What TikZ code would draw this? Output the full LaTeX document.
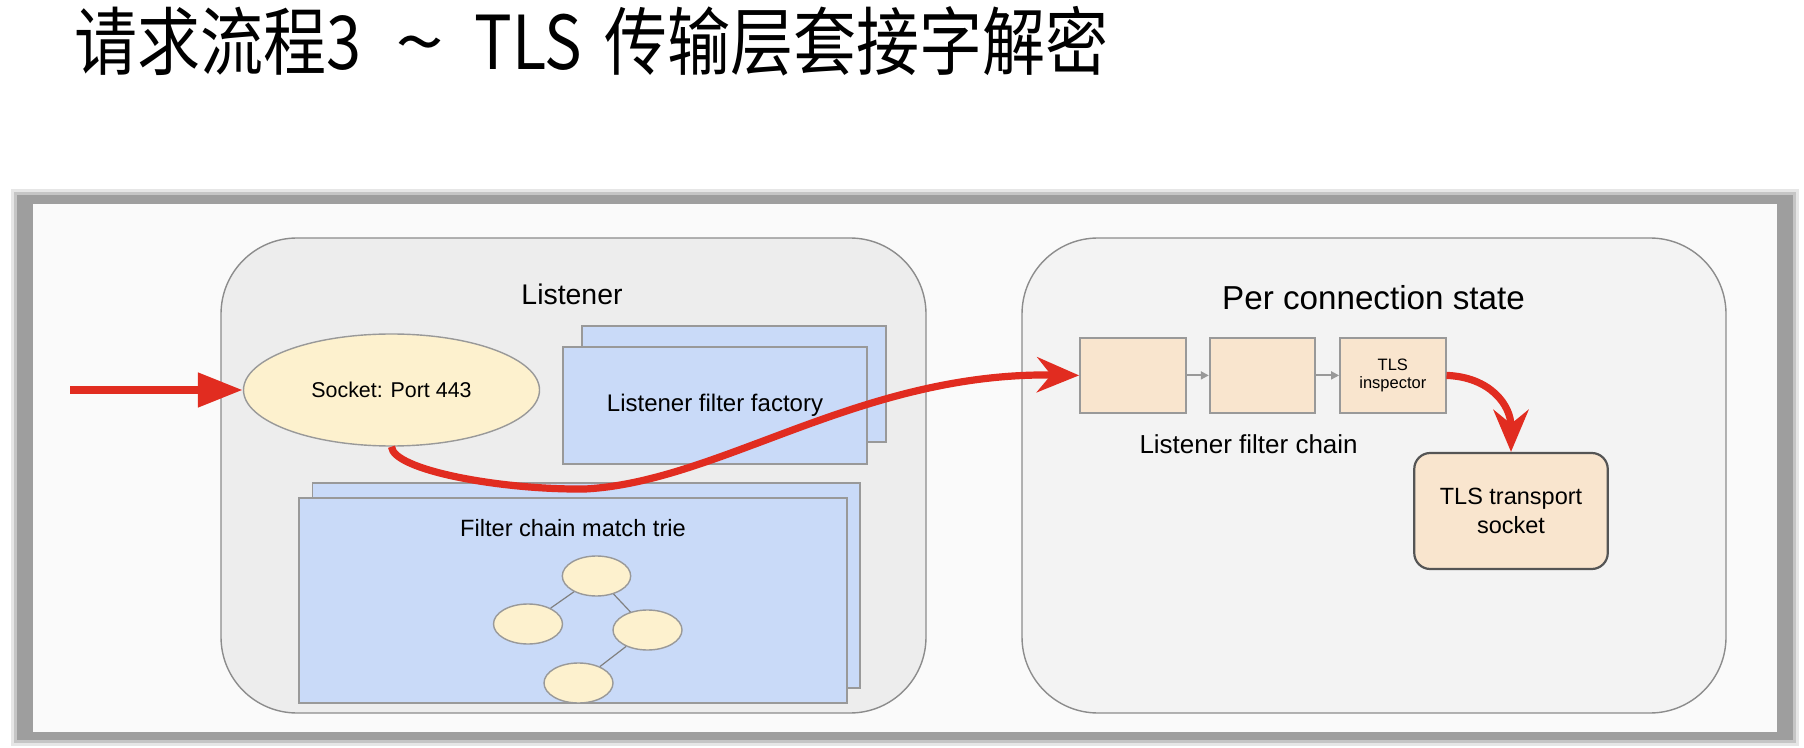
\documentclass[tikz,border=0pt]{standalone}
\usepackage{graphicx}
\usepackage{fontspec}
\setmainfont{Liberation Sans}
\newfontfamily\cjk{Noto Sans CJK SC}
\usetikzlibrary{arrows.meta,shapes.geometric}
\definecolor{panelbg}{HTML}{FAFAFA}
\definecolor{shadowgray}{HTML}{9E9E9E}
\definecolor{listenerbg}{HTML}{EDEDED}
\definecolor{connbg}{HTML}{F3F3F3}
\definecolor{contborder}{HTML}{8C8C8C}
\definecolor{bluefill}{HTML}{C9DAF8}
\definecolor{boxborder}{HTML}{999999}
\definecolor{yellowfill}{HTML}{FDF1CE}
\definecolor{peach}{HTML}{F9E5CE}
\definecolor{flowred}{HTML}{E12C20}
\definecolor{tlsborder}{HTML}{555555}
\tikzset{
  container/.style={draw=contborder, line width=0.7pt, rounded corners=38pt, inner sep=0pt},
  bluerect/.style={draw=boxborder, fill=bluefill, line width=0.8pt, inner sep=0pt, font=\fontsize{11.8pt}{14pt}\selectfont},
  yellowell/.style={ellipse, draw=boxborder, fill=yellowfill, line width=0.7pt, inner sep=0pt},
  peachbox/.style={draw=boxborder, fill=peach, line width=0.9pt, inner sep=0pt, minimum width=52.8pt, minimum height=37.4pt},
  redflow/.style={draw=flowred, line width=3.6pt, -{Stealth[length=21pt, width=17.5pt, inset=7pt]}},
  smallarrow/.style={draw=boxborder, line width=0.9pt, -{Triangle[length=4pt, width=4pt]}},
  trieline/.style={draw=gray, line width=0.6pt},
  lbl/.style={inner sep=0pt, anchor=base},
}
\begin{document}
\begin{tikzpicture}[x=0.5pt, y=-0.5pt]
\useasboundingbox (0,0) rectangle (1804,748);
\fill[white] (0,0) rectangle (1804,748);
% title
\node[inner sep=0pt, anchor=west] (title) at (74,41)
  {\scalebox{1}[1.18]{\cjk\fontsize{31.5pt}{36pt}\selectfont 请求流程3\hspace{17pt}\scalebox{1.4}[1]{\textasciitilde}\hspace{15pt}TLS\hspace{11pt}传输层套接字解密}};
% shadow frame and panel
\fill[shadowgray, opacity=0.25] (11,189) rectangle (1799,746);
\fill[shadowgray, opacity=0.45] (14,192) rectangle (1796,743);
\fill[shadowgray] (17,195) rectangle (1793,740);
\fill[panelbg] (33,204) rectangle (1777,732);
% containers
\node[container, fill=listenerbg, minimum width=352.5pt, minimum height=237.5pt] (listener) at (573.5,475.5) {};
\node[container, fill=connbg, minimum width=352pt, minimum height=237.5pt] (conn) at (1374,475.5) {};
\node[lbl, font=\fontsize{14.2pt}{17pt}\selectfont] (listenerlbl) at (572,305) {Listener};
\node[lbl, font=\fontsize{16.6pt}{20pt}\selectfont] (connlbl) at (1373.5,310) {Per connection state};
% listener filter factory
\node[bluerect, minimum width=152pt, minimum height=58pt] (lffback) at (734,384) {};
\node[bluerect, minimum width=152pt, minimum height=58.5pt, font=\fontsize{12pt}{14pt}\selectfont] (lff) at (715,405.5) {Listener filter factory};
% filter chain match trie
\node[bluerect, minimum width=273.75pt, minimum height=102.65pt] (fcmback) at (586.25,585.35) {};
\node[bluerect, minimum width=274pt, minimum height=102.5pt] (fcm) at (573,600.5) {};
\node[lbl, font=\fontsize{11.8pt}{14pt}\selectfont] (fcmlbl) at (573,536) {Filter chain match trie};
\node[yellowell, minimum width=34.2pt, minimum height=20pt] (t1) at (596.5,576) {};
\node[yellowell, minimum width=34.5pt, minimum height=20pt] (t2) at (528,624) {};
\node[yellowell, minimum width=34.5pt, minimum height=20pt] (t3) at (647.5,630) {};
\node[yellowell, minimum width=34.5pt, minimum height=20pt] (t4) at (578.5,683) {};
\draw[trieline] (t1) -- (t2);
\draw[trieline] (t1) -- (t3);
\draw[trieline] (t3) -- (t4);
% socket
\node[yellowell, minimum width=148pt, minimum height=56pt, font=\fontsize{10.7pt}{13pt}\selectfont] (socket) at (391.5,390) {Socket: Port 443};
% per-connection filter chain
\node[peachbox] (f1) at (1132.8,375.4) {};
\node[peachbox] (f2) at (1262.5,375.4) {};
\node[peachbox, align=center, font=\fontsize{8.25pt}{9.2pt}\selectfont] (f3) at (1392.8,375.4) {TLS\\inspector};
\draw[smallarrow] (f1) -- (f2);
\draw[smallarrow] (f2) -- (f3);
\node[lbl, font=\fontsize{13pt}{16pt}\selectfont] (lfclbl) at (1248.6,453) {Listener filter chain};
\node[draw=tlsborder, fill=peach, line width=1.1pt, rounded corners=8pt, minimum width=96.75pt, minimum height=58pt, align=center, inner sep=0pt, font=\fontsize{11.75pt}{14.65pt}\selectfont] (tls) at (1511,511) {TLS transport\\socket};
% red flows
\coordinate (inflow) at (70,390);
\draw[draw=flowred, line width=4pt, -{Triangle[length=22.5pt, width=16.5pt]}] (inflow) -- (socket.west);
\coordinate (dip) at (585,489);
\draw[redflow] (socket.south) .. controls (393,470) and (500,490) .. (dip) .. controls (720,482) and (860,372) .. (f1.west);
\draw[redflow] (f3.east) .. controls (1490,377) and (1511,405) .. (tls.north);
\end{tikzpicture}
\end{document}
